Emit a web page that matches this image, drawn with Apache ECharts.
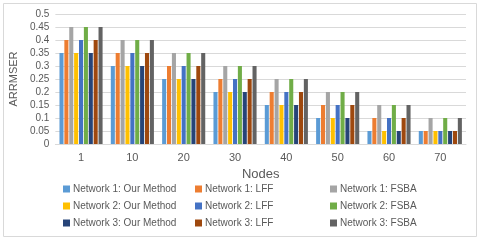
<!DOCTYPE html>
<html><head><meta charset="utf-8">
<script src="https://cdn.jsdelivr.net/npm/echarts@6/dist/echarts.min.js"></script>
<style>html,body{margin:0;padding:0;background:#fff}#c{width:480px;height:241px}</style>
</head><body><div id="c"></div>
<script>
const categories = ['1','10','20','30','40','50','60','70'];
const seriesNames = [
  'Network 1: Our Method','Network 1: LFF','Network 1: FSBA',
  'Network 2: Our Method','Network 2: LFF','Network 2: FSBA',
  'Network 3: Our Method','Network 3: LFF','Network 3: FSBA'
];
const n1Our  = [0.35,0.30,0.25,0.20,0.15,0.10,0.05,0.05];
const n1LFF  = [0.40,0.35,0.30,0.25,0.20,0.15,0.10,0.05];
const n1FSBA = [0.45,0.40,0.35,0.30,0.25,0.20,0.15,0.10];
const n2Our  = [0.35,0.30,0.25,0.20,0.15,0.10,0.05,0.05];
const n2LFF  = [0.40,0.35,0.30,0.25,0.20,0.15,0.10,0.05];
const n2FSBA = [0.45,0.40,0.35,0.30,0.25,0.20,0.15,0.10];
const n3Our  = [0.35,0.30,0.25,0.20,0.15,0.10,0.05,0.05];
const n3LFF  = [0.40,0.35,0.30,0.25,0.20,0.15,0.10,0.05];
const n3FSBA = [0.45,0.40,0.35,0.30,0.25,0.20,0.15,0.10];
const seriesValues = [n1Our,n1LFF,n1FSBA,n2Our,n2LFF,n2FSBA,n3Our,n3LFF,n3FSBA];
const colors = ['#5B9BD5','#ED7D31','#A5A5A5','#FFC000','#4472C4','#70AD47','#264478','#9E480E','#636363'];

const chart = echarts.init(document.getElementById('c'));
const txt = '#595959';
const font = 'Liberation Sans, Arial, sans-serif';
function legendCol(x, names){
  return {orient:'vertical', left:x, top:184, itemWidth:7, itemHeight:7, itemGap:7,
    icon:'rect', data:names, textStyle:{color:txt, fontSize:10, fontFamily:font, padding:[0,0,0,-2]}, padding:0};
}
chart.setOption({
  animation:false,
  color:colors,
  graphic:[{type:'rect', shape:{x:3.5,y:3.5,width:473,height:233}, style:{fill:'none', stroke:'#d9d9d9', lineWidth:1}, silent:true}],
  grid:{left:51, right:14, top:14, bottom:97},
  legend:[
    legendCol(63,[seriesNames[0],seriesNames[3],seriesNames[6]]),
    legendCol(195,[seriesNames[1],seriesNames[4],seriesNames[7]]),
    legendCol(330,[seriesNames[2],seriesNames[5],seriesNames[8]])
  ],
  xAxis:{type:'category', data:categories, name:'Nodes', nameLocation:'middle', nameGap:24,
    nameTextStyle:{color:txt, fontSize:13, fontFamily:font},
    axisLine:{lineStyle:{color:'#d9d9d9'}}, axisTick:{show:false},
    axisLabel:{color:txt, fontSize:11, fontFamily:font, margin:8}},
  yAxis:{type:'value', min:0, max:0.5, interval:0.05, name:'ARRMSER', nameLocation:'middle', nameGap:32,
    nameTextStyle:{color:txt, fontSize:11, fontFamily:font},
    axisLabel:{color:txt, fontSize:10, fontFamily:font, margin:6, formatter:v=>String(+v.toFixed(2))},
    splitLine:{lineStyle:{color:'#d9d9d9'}}, axisLine:{show:false}, axisTick:{show:false}},
  series: seriesNames.map((n,i)=>({name:n, type:'bar', data:seriesValues[i], barGap:'20%', barCategoryGap:'16%'}))
});
</script></body></html>
